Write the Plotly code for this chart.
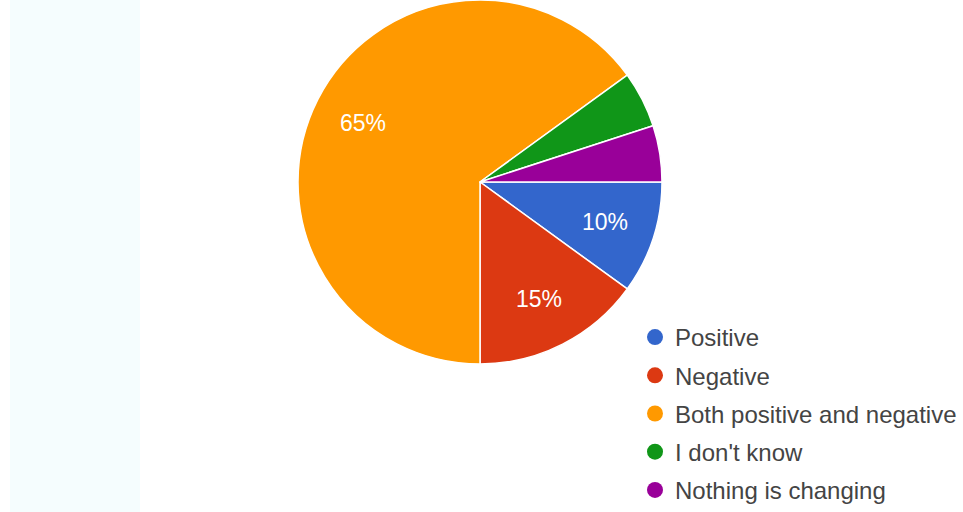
import math
import plotly.graph_objects as go

labels = ["Positive", "Negative", "Both positive and negative", "I don't know", "Nothing is changing"]
values = [10, 15, 65, 5, 5]
slice_text = ["10%", "15%", "65%", "", ""]
colors = ["#3366cc", "#dc3912", "#ff9900", "#109618", "#990099"]

W, H = 963, 512
dom_x = [298 / W, 662 / W]
dom_y = [1 - 364 / H, 1.0]

fig = go.Figure()
fig.add_trace(go.Pie(
    labels=labels, values=values, textinfo="none",
    marker=dict(colors=colors, line=dict(color="white", width=1.5)),
    sort=False, direction="clockwise", rotation=90,
    domain=dict(x=dom_x, y=dom_y),
    showlegend=False, hoverinfo="label+percent",
))
for i, (lab, col) in enumerate(zip(labels, colors)):
    fig.add_trace(go.Scatter(
        x=[None], y=[None], mode="markers", name=lab, legendgroup=f"g{i}",
        marker=dict(symbol="circle", size=20, color=col),
    ))

# slice labels placed at 0.72 of the radius along each slice's mid-angle
cx = (dom_x[0] + dom_x[1]) / 2
cy = (dom_y[0] + dom_y[1]) / 2
r_px = min((dom_x[1] - dom_x[0]) * W, (dom_y[1] - dom_y[0]) * H) / 2
total = sum(values)
annotations = []
cum = 0
for v, t in zip(values, slice_text):
    mid = (cum + v / 2) / total * 2 * math.pi  # clockwise from 3 o'clock
    cum += v
    if not t:
        continue
    rr = 0.72 * r_px
    annotations.append(dict(
        x=cx + rr * math.cos(mid) / W, y=cy - rr * math.sin(mid) / H,
        xref="paper", yref="paper", xanchor="center", yanchor="middle",
        text=t, showarrow=False,
        font=dict(color="white", size=23, family="Liberation Sans, Arial"),
    ))

fig.update_layout(
    width=W, height=H,
    margin=dict(l=0, r=0, t=0, b=0),
    paper_bgcolor="white", plot_bgcolor="white",
    xaxis=dict(visible=False), yaxis=dict(visible=False),
    legend=dict(x=635 / W, y=0, xanchor="left", yanchor="bottom",
                font=dict(size=24, color="#444444", family="Liberation Sans, Arial"),
                tracegroupgap=4, itemsizing="trace"),
    annotations=annotations,
    shapes=[dict(type="rect", xref="paper", yref="paper", x0=10 / W, x1=140 / W,
                 y0=0, y1=1, fillcolor="#f5fdfe", line=dict(width=0), layer="below")],
)
fig.write_html("out.html", config={"displayModeBar": False},
               post_script="document.body.style.margin='0px';")
